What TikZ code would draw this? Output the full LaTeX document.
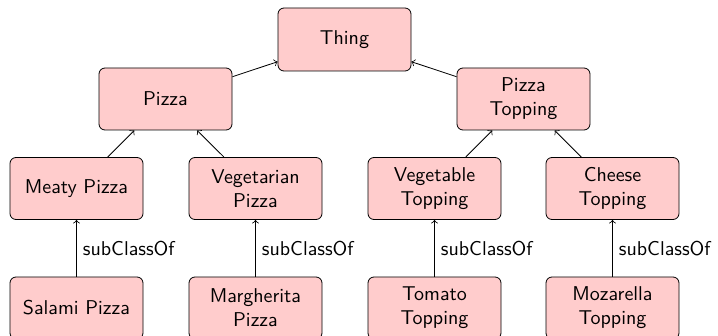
\documentclass[tikz,border=0pt]{standalone}
\usetikzlibrary{positioning}
\begin{document}
\begin{tikzpicture}[x=0.5pt,y=-0.5pt,
  cls/.style={draw, fill=red!20, rounded corners=3pt, minimum width=66.5pt, minimum height=31pt, align=center, font=\sffamily, inner sep=2pt},
  sub/.style={->},
  lbl/.style={right, font=\sffamily, inner sep=3pt}]
\useasboundingbox (0,0) rectangle (718,336);
\node[cls, minimum height=31.5pt] (thing) at (344.5,39.5) {Thing};
\node[cls] (pizza) at (165.5,99) {Pizza};
\node[cls] (topping) at (523.5,99) {Pizza\\Topping};
\node[cls] (meaty) at (76.5,188.5) {Meaty Pizza};
\node[cls] (veg) at (255.5,188.5) {Vegetarian\\Pizza};
\node[cls] (vegtop) at (434.5,188.5) {Vegetable\\Topping};
\node[cls] (cheese) at (612.5,188.5) {Cheese\\Topping};
\node[cls] (salami) at (76.5,308) {Salami Pizza};
\node[cls] (marg) at (255.5,308) {Margherita\\Pizza};
\node[cls] (tomato) at (434.5,308) {Tomato\\Topping};
\node[cls] (moz) at (612.5,308) {Mozarella\\Topping};
\draw[sub] (pizza) -- (thing);
\draw[sub] (topping) -- (thing);
\draw[sub] (meaty) -- (pizza);
\draw[sub] (veg) -- (pizza);
\draw[sub] (vegtop) -- (topping);
\draw[sub] (cheese) -- (topping);
\draw[sub] (salami) -- node[lbl] {subClassOf} (meaty);
\draw[sub] (marg) -- node[lbl] {subClassOf} (veg);
\draw[sub] (tomato) -- node[lbl] {subClassOf} (vegtop);
\draw[sub] (moz) -- node[lbl] {subClassOf} (cheese);
\end{tikzpicture}
\end{document}
